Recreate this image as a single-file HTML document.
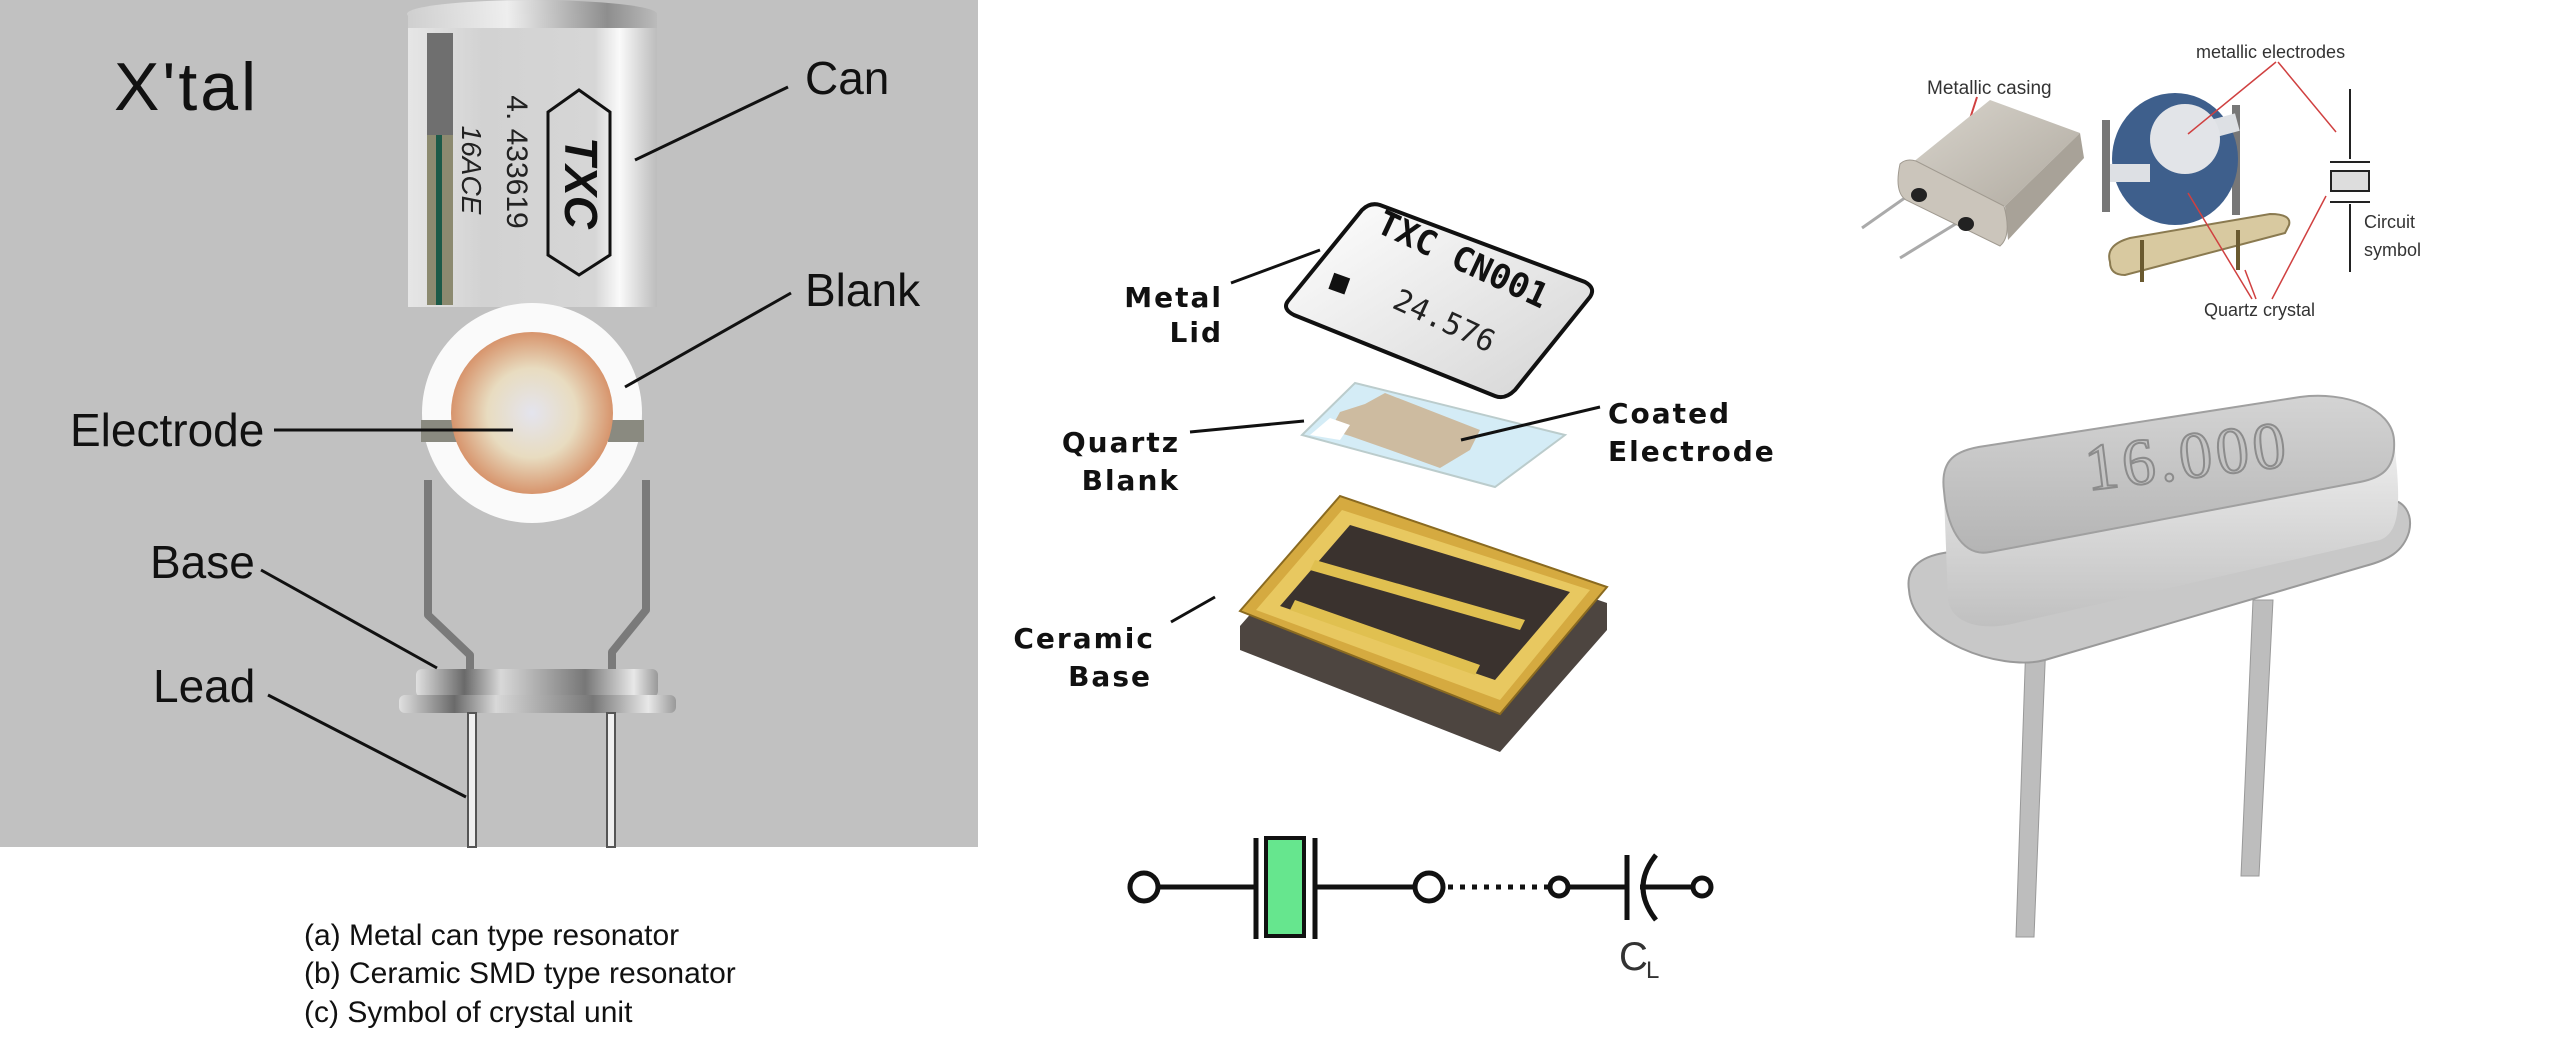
<!DOCTYPE html>
<html><head><meta charset="utf-8"><style>
html,body{margin:0;padding:0;background:#fff;}
svg{display:block;}
</style></head><body>
<svg width="2560" height="1046" viewBox="0 0 2560 1046" xmlns="http://www.w3.org/2000/svg">
<defs>
<linearGradient id="can" x1="0" x2="1" y1="0" y2="0">
<stop offset="0" stop-color="#e6e6e6"/><stop offset="0.3" stop-color="#d2d2d2"/><stop offset="0.75" stop-color="#d6d6d6"/><stop offset="0.85" stop-color="#fafafa"/><stop offset="0.95" stop-color="#d0d0d0"/><stop offset="1" stop-color="#bdbdbd"/>
</linearGradient>
<linearGradient id="cap" x1="0" x2="1"><stop offset="0" stop-color="#cfcfcf"/><stop offset="0.4" stop-color="#eeeeee"/><stop offset="0.8" stop-color="#8e8e8e"/><stop offset="1" stop-color="#bbb"/></linearGradient>
<radialGradient id="elec"><stop offset="0" stop-color="#e4e4ee"/><stop offset="0.55" stop-color="#e8dcc0"/><stop offset="1" stop-color="#d7946c"/></radialGradient>
<linearGradient id="flange" x1="0" x2="1"><stop offset="0" stop-color="#e0e0e0"/><stop offset="0.2" stop-color="#6a6a6a"/><stop offset="0.35" stop-color="#d8d8d8"/><stop offset="0.7" stop-color="#777"/><stop offset="0.9" stop-color="#e8e8e8"/><stop offset="1" stop-color="#999"/></linearGradient>
<linearGradient id="lid" x1="0" x2="1" y1="0" y2="1"><stop offset="0" stop-color="#ffffff"/><stop offset="1" stop-color="#d4d4d4"/></linearGradient>
<linearGradient id="silver" x1="0" x2="0" y1="0" y2="1"><stop offset="0" stop-color="#d4d4d4"/><stop offset="1" stop-color="#b4b4b4"/></linearGradient>
<linearGradient id="side" x1="0" x2="0" y1="0" y2="1"><stop offset="0" stop-color="#eeeeee"/><stop offset="1" stop-color="#c0c0c0"/></linearGradient>
<linearGradient id="hc" x1="0" x2="1" y1="0" y2="1"><stop offset="0" stop-color="#d8d4cc"/><stop offset="1" stop-color="#b0aaa0"/></linearGradient>
</defs>

<!-- LEFT PANEL -->
<rect x="0" y="0" width="978" height="847" fill="#c1c1c1"/>
<text x="114" y="110" font-family="Liberation Sans, sans-serif" font-size="68" fill="#111" letter-spacing="3">X'tal</text>
<rect x="408" y="14" width="249" height="293" fill="url(#can)"/>
<rect x="427" y="33" width="26" height="272" fill="#6f6f6f"/>
<rect x="427" y="135" width="26" height="170" fill="#8c8a70"/>
<rect x="436" y="135" width="6" height="170" fill="#1c5a48"/>
<ellipse cx="532" cy="14" rx="125" ry="14" fill="url(#cap)"/>
<rect x="408" y="14" width="249" height="14" fill="url(#cap)"/>
<polygon points="579,90 610,112 610,255 579,275 548,255 548,112" fill="none" stroke="#111" stroke-width="3"/>
<text transform="translate(565,183) rotate(90)" text-anchor="middle" font-family="Liberation Sans, sans-serif" font-weight="bold" font-style="italic" font-size="46" fill="#111">TXC</text>
<text transform="translate(507,162) rotate(90)" text-anchor="middle" font-family="Liberation Sans, sans-serif" font-size="30" fill="#222">4. 433619</text>
<text transform="translate(462,170) rotate(90)" text-anchor="middle" font-family="Liberation Sans, sans-serif" font-size="28" font-style="italic" fill="#222">16ACE</text>
<!-- wires -->
<polyline points="428,480 428,615 470,655 470,672" fill="none" stroke="#7a7a7a" stroke-width="8" stroke-linejoin="round"/>
<polyline points="646,480 646,610 612,652 612,672" fill="none" stroke="#7a7a7a" stroke-width="8" stroke-linejoin="round"/>
<circle cx="532" cy="413" r="110" fill="#fafafa"/>
<rect x="421" y="420" width="36" height="22" fill="#8a8a80"/>
<rect x="608" y="420" width="36" height="22" fill="#8a8a80"/>
<circle cx="532" cy="413" r="81" fill="url(#elec)"/>
<rect x="416" y="669" width="242" height="28" rx="6" fill="url(#flange)"/>
<rect x="399" y="695" width="277" height="18" rx="6" fill="url(#flange)"/>
<rect x="468" y="713" width="8" height="134" fill="#f0f0f0" stroke="#555" stroke-width="2"/>
<rect x="607" y="713" width="8" height="134" fill="#f0f0f0" stroke="#555" stroke-width="2"/>
<g stroke="#111" stroke-width="3" fill="none">
<line x1="788" y1="87" x2="635" y2="160"/>
<line x1="791" y1="293" x2="625" y2="387"/>
<line x1="274" y1="430" x2="513" y2="430"/>
<line x1="261" y1="570" x2="437" y2="668"/>
<line x1="268" y1="695" x2="466" y2="797"/>
</g>
<g font-family="Liberation Sans, sans-serif" font-size="46" fill="#111">
<text x="805" y="94">Can</text>
<text x="805" y="306">Blank</text>
<text x="70" y="446">Electrode</text>
<text x="150" y="578">Base</text>
<text x="153" y="702">Lead</text>
</g>
<g font-family="Liberation Sans, sans-serif" font-size="30" fill="#111">
<text x="304" y="945">(a) Metal can type resonator</text>
<text x="304" y="983">(b) Ceramic SMD type resonator</text>
<text x="304" y="1022">(c) Symbol of crystal unit</text>
</g>

<!-- MIDDLE -->
<path d="M1288,301 L1362,210 Q1370,202 1380,205 L1585,282 Q1596,288 1590,297 L1515,390 Q1505,400 1495,396 L1294,315 Q1282,309 1288,301 Z" fill="url(#lid)" stroke="#111" stroke-width="4"/>
<rect x="1331" y="275" width="17" height="17" fill="#111" transform="rotate(20 1339 283)"/>
<text transform="translate(1458,270) rotate(25)" text-anchor="middle" font-family="DejaVu Sans Mono, monospace" font-weight="bold" font-size="34" fill="#111">TXC CN001</text>
<text transform="translate(1440,330) rotate(25)" text-anchor="middle" font-family="DejaVu Sans Mono, monospace" font-size="30" fill="#222">24.576</text>
<polygon points="1302,435 1355,383 1565,435 1495,487" fill="#d4ecf6" stroke="#bcc" stroke-width="2"/>
<polygon points="1330,430 1340,412 1365,404 1385,393 1480,430 1470,450 1440,468 1390,450 1350,436" fill="#cdbba0"/>
<polygon points="1310,435 1330,418 1350,425 1340,440" fill="#ffffff"/>
<polygon points="1240,626 1340,512 1607,603 1607,630 1500,752 1240,650" fill="#4d4540"/>
<polygon points="1240,611 1340,496 1607,587 1500,714" fill="#d5aa40" stroke="#8a6a20" stroke-width="2"/>
<polygon points="1256,610 1342,510 1590,590 1500,700" fill="#e8c860"/>
<polygon points="1280,606 1350,525 1570,592 1495,680" fill="#3a322e"/>
<polygon points="1315,560 1525,620 1520,630 1310,570" fill="#e0c050"/>
<polygon points="1295,600 1480,665 1475,675 1290,610" fill="#e0c050"/>
<g stroke="#111" stroke-width="3" fill="none">
<line x1="1231" y1="283" x2="1320" y2="250"/>
<line x1="1190" y1="432" x2="1304" y2="421"/>
<line x1="1600" y1="407" x2="1461" y2="440"/>
<line x1="1171" y1="622" x2="1215" y2="597"/>
</g>
<g font-family="DejaVu Sans, sans-serif" font-weight="bold" font-size="28" fill="#111" letter-spacing="2">
<text x="1223" y="307" text-anchor="end">Metal</text>
<text x="1223" y="342" text-anchor="end">Lid</text>
<text x="1180" y="452" text-anchor="end">Quartz</text>
<text x="1180" y="490" text-anchor="end">Blank</text>
<text x="1608" y="423">Coated</text>
<text x="1608" y="461">Electrode</text>
<text x="1155" y="648" text-anchor="end">Ceramic</text>
<text x="1152" y="686" text-anchor="end">Base</text>
</g>
<g stroke="#111" stroke-width="5" fill="none">
<circle cx="1144" cy="887" r="14"/>
<line x1="1158" y1="887" x2="1255" y2="887"/>
<line x1="1256" y1="838" x2="1256" y2="939"/>
<line x1="1315" y1="838" x2="1315" y2="939"/>
<line x1="1315" y1="887" x2="1415" y2="887"/>
<circle cx="1429" cy="887" r="14"/>
<line x1="1448" y1="887" x2="1548" y2="887" stroke-dasharray="5 7"/>
<circle cx="1559" cy="887" r="9"/>
<line x1="1568" y1="887" x2="1627" y2="887"/>
<line x1="1627" y1="855" x2="1627" y2="920"/>
<path d="M1656,855 Q1630,887 1656,920"/>
<line x1="1640" y1="887" x2="1693" y2="887"/>
<circle cx="1702" cy="887" r="9"/>
</g>
<rect x="1266" y="838" width="38" height="98" fill="#66e68e" stroke="#111" stroke-width="4"/>
<text x="1619" y="970" font-family="Liberation Sans, sans-serif" font-size="40" fill="#333">C</text>
<text x="1646" y="978" font-family="Liberation Sans, sans-serif" font-size="24" fill="#333">L</text>

<!-- RIGHT TOP -->
<text x="1927" y="94" font-family="Liberation Sans, sans-serif" font-size="19" fill="#333">Metallic casing</text>
<line x1="1977" y1="97" x2="1968" y2="125" stroke="#d04040" stroke-width="2"/>
<line x1="1916" y1="190" x2="1862" y2="228" stroke="#aaa" stroke-width="3"/>
<line x1="1962" y1="220" x2="1900" y2="258" stroke="#aaa" stroke-width="3"/>
<polygon points="1912,163 1990,100 2080,133 2005,206" fill="url(#hc)"/>
<polygon points="2005,206 2080,133 2084,158 2008,240" fill="#a8a298"/>
<path d="M1900,164 Q1906,158 1916,161 L2004,206 Q2012,236 2000,246 L1906,200 Q1894,192 1900,164 Z" fill="#cbc5bb" stroke="#a09a90" stroke-width="1"/>
<ellipse cx="1919" cy="195" rx="8" ry="7" fill="#222"/>
<ellipse cx="1966" cy="224" rx="8" ry="7" fill="#222"/>
<text x="2196" y="58" font-family="Liberation Sans, sans-serif" font-size="18" fill="#333">metallic electrodes</text>
<rect x="2102" y="120" width="8" height="92" fill="#777"/>
<rect x="2232" y="105" width="8" height="110" fill="#777"/>
<ellipse cx="2175" cy="159" rx="63" ry="66" fill="#3e5f8c"/>
<rect x="2110" y="164" width="40" height="18" fill="#dde0e4"/>
<rect x="2200" y="118" width="38" height="18" fill="#dde0e4" transform="rotate(-15 2219 127)"/>
<circle cx="2185" cy="139" r="35" fill="#e2e4e8"/>
<path d="M2110,262 Q2105,245 2130,238 L2270,214 Q2292,214 2289,225 L2285,233 L2125,275 Q2110,275 2110,262 Z" fill="#d8c9a0" stroke="#8a7a50" stroke-width="2"/>
<rect x="2140" y="240" width="4" height="42" fill="#6a5a30"/>
<rect x="2236" y="230" width="4" height="40" fill="#6a5a30"/>
<g stroke="#222" stroke-width="2">
<line x1="2350" y1="89" x2="2350" y2="159"/>
<line x1="2330" y1="162" x2="2370" y2="162"/>
<line x1="2330" y1="202" x2="2370" y2="202"/>
<line x1="2350" y1="204" x2="2350" y2="272"/>
</g>
<rect x="2331" y="171" width="38" height="20" fill="#ddd" stroke="#222" stroke-width="2"/>
<g font-family="Liberation Sans, sans-serif" font-size="18" fill="#333">
<text x="2364" y="228">Circuit</text>
<text x="2364" y="256">symbol</text>
<text x="2204" y="316">Quartz crystal</text>
</g>
<g stroke="#d04040" stroke-width="1.5">
<line x1="2276" y1="62" x2="2188" y2="134"/>
<line x1="2278" y1="62" x2="2336" y2="132"/>
<line x1="2252" y1="299" x2="2188" y2="193"/>
<line x1="2256" y1="299" x2="2245" y2="270"/>
<line x1="2272" y1="299" x2="2326" y2="196"/>
</g>

<!-- RIGHT BIG CRYSTAL -->
<polygon points="2026,640 2046,640 2034,937 2016,937" fill="#bdbdbd" stroke="#999" stroke-width="1"/>
<polygon points="2253,600 2273,600 2259,876 2241,876" fill="#bdbdbd" stroke="#999" stroke-width="1"/>
<path d="M1909,590 C1905,565 1925,555 1950,552 L2385,500 C2405,498 2413,515 2409,532 C2403,552 2388,560 2365,566 L2045,660 C2000,672 1912,640 1909,590 Z" fill="#c8c8c8" stroke="#9a9a9a" stroke-width="2"/>
<path d="M1944,495 L1948,600 C1952,625 1985,632 2020,622 L2380,540 C2398,533 2400,510 2397,470 L2394,440 Z" fill="url(#side)"/>
<path d="M1944,491 C1940,460 1955,450 1985,446 L2300,397 C2345,391 2392,408 2394,440 C2396,470 2380,478 2360,482 L1990,552 C1960,558 1946,522 1944,491 Z" fill="url(#silver)" stroke="#a0a0a0" stroke-width="2"/>
<text transform="translate(2190,478) rotate(-7)" text-anchor="middle" font-family="Liberation Serif, serif" font-size="66" fill="#c4c4c4" stroke="#8c8c8c" stroke-width="2" letter-spacing="4">16.000</text>
</svg>
</body></html>
